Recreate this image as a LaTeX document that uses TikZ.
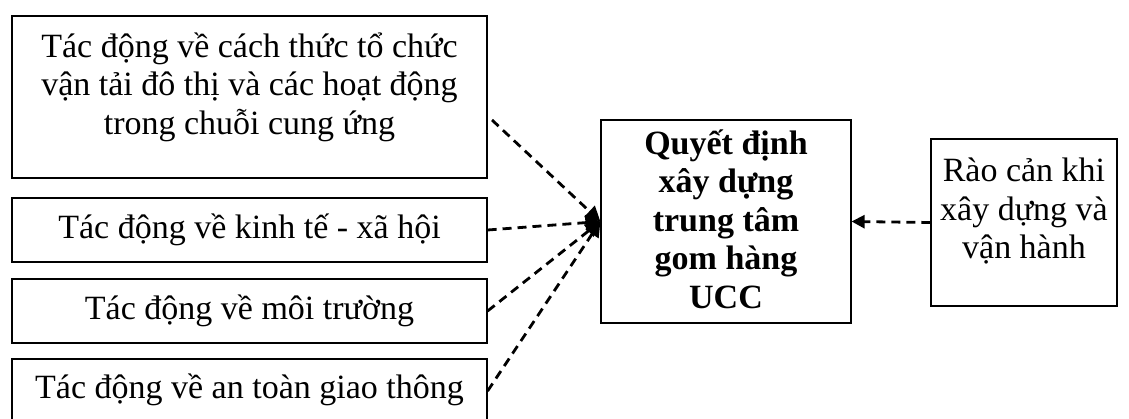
\documentclass[tikz,border=0pt]{standalone}
\usepackage{fontspec}
\setmainfont{Liberation Serif}
\usetikzlibrary{arrows.meta}
\begin{document}
\begin{tikzpicture}[x=1pt,y=-1pt,
  box/.style={draw=black,line width=1.2pt,inner sep=0pt,minimum width=#1},
  txt/.style={inner sep=0pt,align=center,font=\fontsize{34}{38.5}\selectfont},
  link/.style={line width=2.8pt,dash pattern=on 9pt off 6pt,-{Triangle[length=15pt,width=15pt]}}]
\useasboundingbox (0,0) rectangle (1129,418);
\clip (0,0) rectangle (1129,418);
% boxes
\node[box=475pt,minimum height=162pt] (b1) at (249.5,97) {};
\node[box=475pt,minimum height=64pt] (b2) at (249.5,230) {};
\node[box=475pt,minimum height=64pt] (b3) at (249.5,311) {};
\node[box=475pt,minimum height=64pt] (b4) at (249.5,391) {};
\node[box=250pt,minimum height=203pt] (c) at (726,221.5) {};
\node[box=186pt,minimum height=167pt] (r) at (1024,222.5) {};
% texts
\node[txt] (t1) at (249.5,87) {Tác động về cách thức tổ chức\\vận tải đô thị và các hoạt động\\trong chuỗi cung ứng};
\node[txt] (t2) at (249.5,230) {Tác động về kinh tế - xã hội};
\node[txt] (t3) at (249.5,311) {Tác động về môi trường};
\node[txt] (t4) at (249.5,390) {Tác động về an toàn giao thông};
\node[txt,font=\fontsize{34}{38.5}\selectfont\bfseries] (tc) at (726,219) {Quyết định\\xây dựng\\trung tâm\\gom hàng\\UCC};
\node[txt] (tr) at (1024,211) {Rào cản khi\\xây dựng và\\vận hành};
% connectors
\coordinate (s1) at (492,120);
\draw[link] (s1) -- (c.west);
\draw[link] (b2.east) -- (c.west);
\draw[link] (b3.east) -- (c.west);
\draw[link] (b4.east) -- (c.west);
\draw[link,-{Triangle[length=13pt,width=13pt]}] (r.west) -- (c.east);
\end{tikzpicture}
\end{document}
